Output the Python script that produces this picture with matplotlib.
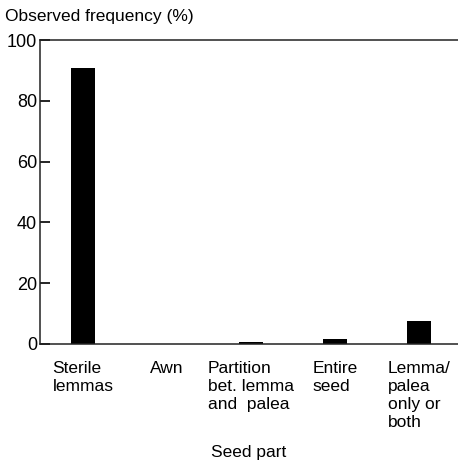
import numpy as np
import matplotlib
matplotlib.use("Agg")
import matplotlib.pyplot as plt

plt.rcParams['font.family'] = ['Liberation Sans', 'DejaVu Sans']

# seed part categories and observed frequency (%)
categories = ['Sterile\nlemmas', 'Awn', 'Partition\nbet. lemma\nand  palea',
              'Entire\nseed', 'Lemma/\npalea\nonly or\nboth']
frequency = [90.8, 0.0, 0.8, 1.6, 7.7]
y_ticks = [0, 20, 40, 60, 80, 100]

fig = plt.figure(figsize=(4.58, 4.61), dpi=100)
ax = fig.add_axes([0.0873, 0.2538, 0.9127, 0.6594])

x = np.arange(len(categories))
ax.bar(x, frequency, width=0.29, color='black', zorder=1)

ax.set_xlim(-0.512, 4.464)
ax.set_ylim(0, 100)
ax.set_yticks(y_ticks)
ax.tick_params(axis='y', direction='in', length=7, width=1.2, labelsize=13, pad=2)
ax.set_xticks(x)
ax.set_xticklabels(categories, fontsize=12.5, linespacing=1.25, va='top')
for lab in ax.get_xticklabels():
    lab.set_multialignment('left')
ax.tick_params(axis='x', length=0, pad=12)

ax.spines['right'].set_visible(False)
for s in ['left', 'top', 'bottom']:
    ax.spines[s].set_linewidth(1.1)
    ax.spines[s].set_color('#222222')

ax.set_xlabel('Seed part', fontsize=12.5, labelpad=11)
fig.text(0.011, 0.965, 'Observed frequency (%)', fontsize=12.5, ha='left', va='center')

fig.savefig('out.png', dpi=100)
